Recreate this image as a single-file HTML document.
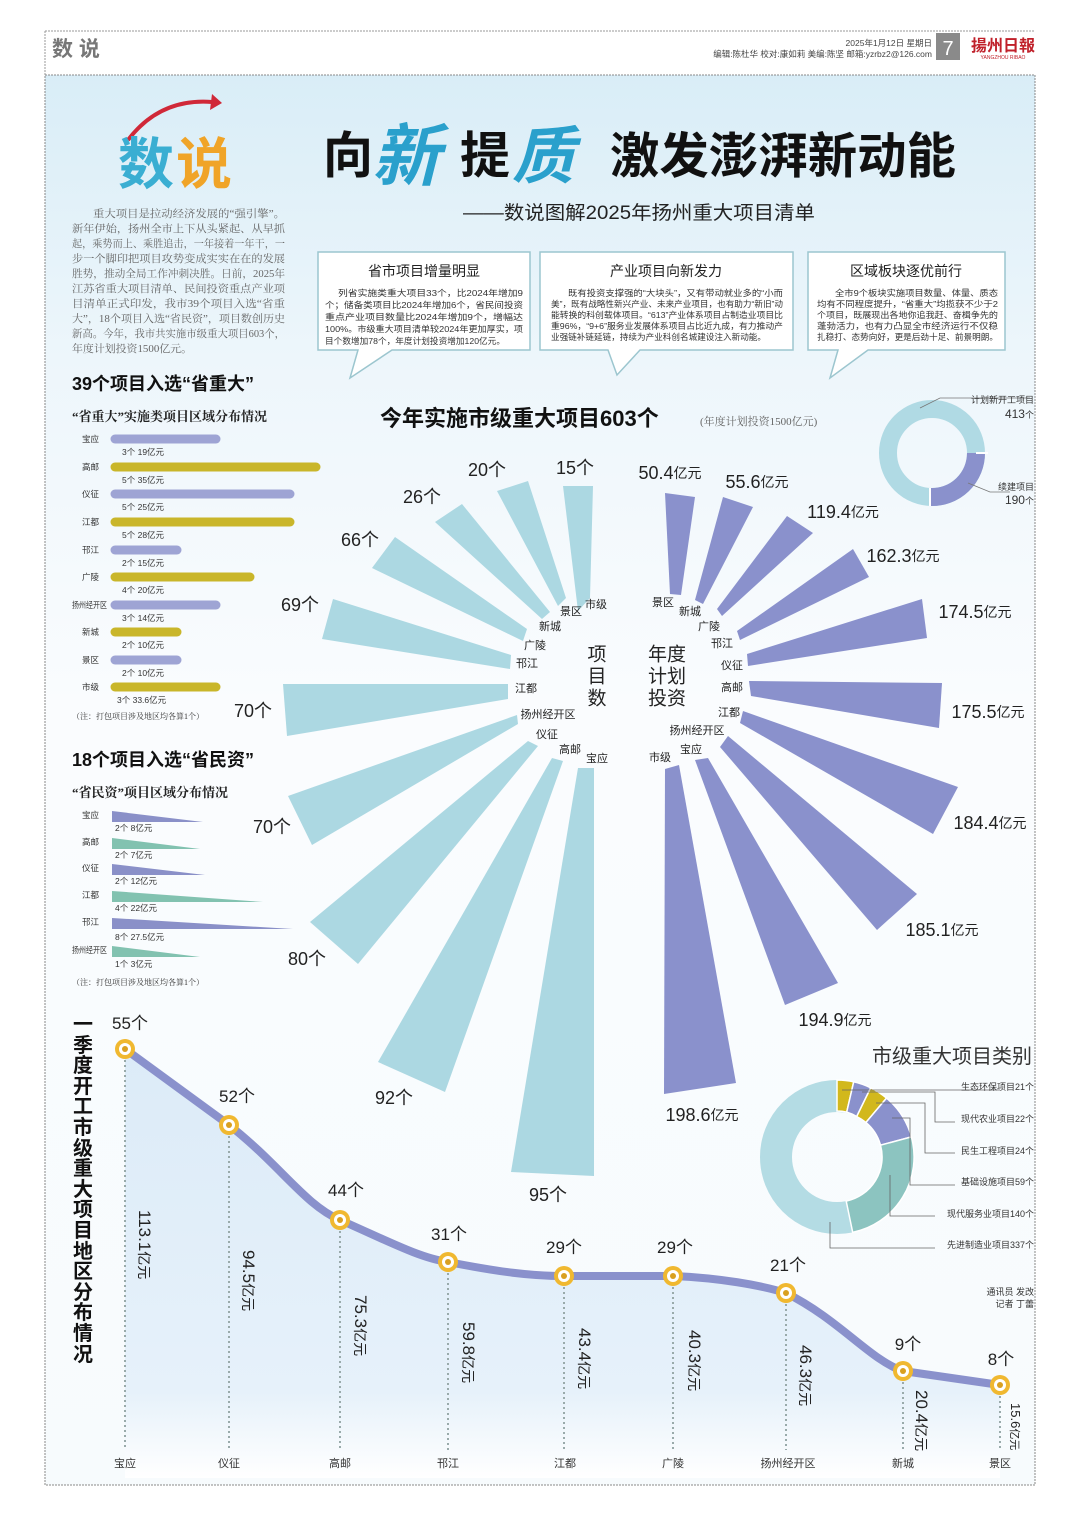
<!DOCTYPE html>
<html><head><meta charset="utf-8"><style>
html,body{margin:0;padding:0;background:#fff;}
svg{display:block;}
text{font-family:"Liberation Sans","Noto Sans CJK SC",sans-serif;}
.s{font-family:"Liberation Serif","Noto Serif CJK SC",serif;}
</style></head><body>
<svg width="1080" height="1515" viewBox="0 0 1080 1515" xmlns="http://www.w3.org/2000/svg">
<defs>
<linearGradient id="bg" x1="0" y1="0" x2="0" y2="1">
<stop offset="0" stop-color="#d9edf7"/><stop offset="0.2" stop-color="#edf6fb"/><stop offset="0.45" stop-color="#fafcfe"/><stop offset="1" stop-color="#f7fbfd"/></linearGradient>
<linearGradient id="ar" x1="0" y1="0" x2="0" y2="1">
<stop offset="0" stop-color="#dcebf8"/><stop offset="0.8" stop-color="#e6f1fa"/><stop offset="1" stop-color="#ffffff"/></linearGradient>
</defs>
<rect width="1080" height="1515" fill="#fff"/>
<line x1="45" y1="31" x2="1035" y2="31" stroke="#999" stroke-dasharray="2,1"/>
<line x1="45" y1="31" x2="45" y2="75" stroke="#999" stroke-dasharray="2,1"/>
<text x="52" y="56" font-size="21" fill="#777" font-weight="bold">数 说</text>
<text x="932" y="46" font-size="8.5" fill="#444" text-anchor="end">2025年1月12日 星期日</text>
<text x="932" y="57" font-size="8.5" fill="#444" text-anchor="end">编辑:陈杜华 校对:康如莉 美编:陈坚 邮箱:yzrbz2@126.com</text>
<rect x="936" y="33" width="24" height="27" fill="#8a8a8a"/>
<text x="948" y="55" font-size="20" fill="#fff" text-anchor="middle">7</text>
<text x="1003" y="51" font-size="16" fill="#c0202a" text-anchor="middle" font-weight="bold">揚州日報</text>
<text x="1003" y="59" font-size="5" fill="#c0202a" text-anchor="middle">YANGZHOU RIBAO</text>
<rect x="45" y="75" width="990" height="1410" fill="url(#bg)" stroke="#888" stroke-dasharray="2,1"/>
<path d="M128,140 Q160,98 212,102" fill="none" stroke="#d02838" stroke-width="4"/>
<polygon points="212,94 222,103 210,110" fill="#d02838"/>
<text x="118" y="184" font-size="56" font-weight="bold" fill="#3aaed2">数</text>
<text x="176" y="184" font-size="56" font-weight="bold" fill="#f0a428">说</text>
<text x="323" y="173" font-size="50" font-weight="bold" fill="#111">向</text>
<text x="372" y="180" font-size="68" font-weight="bold" fill="#2aa0cc" font-style="italic">新</text>
<text x="460" y="173" font-size="50" font-weight="bold" fill="#111">提</text>
<text x="512" y="178" font-size="62" font-weight="bold" fill="#2aa0cc" font-style="italic">质</text>
<text x="610" y="173" font-size="49" font-weight="bold" fill="#111" textLength="346" lengthAdjust="spacingAndGlyphs">激发澎湃新动能</text>
<text x="463" y="219" font-size="19" fill="#222" textLength="352" lengthAdjust="spacingAndGlyphs">——数说图解2025年扬州重大项目清单</text>
<g class="s" font-size="10.5" fill="#666">
<text class="s" x="93" y="217" textLength="192" lengthAdjust="spacingAndGlyphs">重大项目是拉动经济发展的“强引擎”。</text>
<text class="s" x="72" y="232" textLength="213" lengthAdjust="spacingAndGlyphs">新年伊始，扬州全市上下从头紧起、从早抓</text>
<text class="s" x="72" y="247" textLength="213" lengthAdjust="spacingAndGlyphs">起，乘势而上、乘胜追击，一年接着一年干，一</text>
<text class="s" x="72" y="262" textLength="213" lengthAdjust="spacingAndGlyphs">步一个脚印把项目攻势变成实实在在的发展</text>
<text class="s" x="72" y="277" textLength="213" lengthAdjust="spacingAndGlyphs">胜势，推动全局工作冲刺决胜。日前，2025年</text>
<text class="s" x="72" y="292" textLength="213" lengthAdjust="spacingAndGlyphs">江苏省重大项目清单、民间投资重点产业项</text>
<text class="s" x="72" y="307" textLength="213" lengthAdjust="spacingAndGlyphs">目清单正式印发，我市39个项目入选“省重</text>
<text class="s" x="72" y="322" textLength="213" lengthAdjust="spacingAndGlyphs">大”，18个项目入选“省民资”，项目数创历史</text>
<text class="s" x="72" y="337" textLength="213" lengthAdjust="spacingAndGlyphs">新高。今年，我市共实施市级重大项目603个，</text>
<text class="s" x="72" y="352" textLength="120" lengthAdjust="spacingAndGlyphs">年度计划投资1500亿元。</text>
</g>
<g fill="#fff" stroke="#9cc6cf" stroke-width="1.5">
<path d="M318,252 H530 V350 H392 L350,378 L358,350 H318 Z"/>
<path d="M540,252 H793 V350 H640 L617,375 L608,350 H540 Z"/>
<path d="M808,252 H1005 V350 H868 L830,378 L838,350 H808 Z"/>
</g>
<g font-size="14" fill="#222" text-anchor="middle">
<text x="424" y="276">省市项目增量明显</text>
<text x="666" y="276">产业项目向新发力</text>
<text x="906" y="276">区域板块逐优前行</text>
</g>
<g font-size="8.5" fill="#333">
<text x="338" y="296" textLength="185" lengthAdjust="spacingAndGlyphs">列省实施类重大项目33个，比2024年增加9</text>
<text x="325" y="308" textLength="198" lengthAdjust="spacingAndGlyphs">个；储备类项目比2024年增加6个，省民间投资</text>
<text x="325" y="320" textLength="198" lengthAdjust="spacingAndGlyphs">重点产业项目数量比2024年增加9个，增幅达</text>
<text x="325" y="332" textLength="198" lengthAdjust="spacingAndGlyphs">100%。市级重大项目清单较2024年更加厚实，项</text>
<text x="325" y="344" textLength="180" lengthAdjust="spacingAndGlyphs">目个数增加78个，年度计划投资增加120亿元。</text>
<text x="568" y="296" textLength="215" lengthAdjust="spacingAndGlyphs">既有投资支撑强的“大块头”，又有带动就业多的“小而</text>
<text x="551" y="307" textLength="232" lengthAdjust="spacingAndGlyphs">美”，既有战略性新兴产业、未来产业项目，也有助力“新旧”动</text>
<text x="551" y="318" textLength="232" lengthAdjust="spacingAndGlyphs">能转换的科创载体项目。“613”产业体系项目占制造业项目比</text>
<text x="551" y="329" textLength="232" lengthAdjust="spacingAndGlyphs">重96%，“9+6”服务业发展体系项目占比近九成，有力推动产</text>
<text x="551" y="340" textLength="215" lengthAdjust="spacingAndGlyphs">业强链补链延链，持续为产业科创名城建设注入新动能。</text>
<text x="835" y="296" textLength="163" lengthAdjust="spacingAndGlyphs">全市9个板块实施项目数量、体量、质态</text>
<text x="817" y="307" textLength="181" lengthAdjust="spacingAndGlyphs">均有不同程度提升，“省重大”均揽获不少于2</text>
<text x="817" y="318" textLength="181" lengthAdjust="spacingAndGlyphs">个项目，既展现出各地你追我赶、奋楫争先的</text>
<text x="817" y="329" textLength="181" lengthAdjust="spacingAndGlyphs">蓬勃活力，也有力凸显全市经济运行不仅稳</text>
<text x="817" y="340" textLength="181" lengthAdjust="spacingAndGlyphs">扎稳打、态势向好，更是后劲十足、前景明朗。</text>
</g>
<text x="72" y="390" font-size="18" font-weight="bold" fill="#111">39个项目入选“省重大”</text>
<text class="s" x="72" y="421" font-size="13" font-weight="bold" fill="#222">“省重大”实施类项目区域分布情况</text>
<g stroke-width="9" stroke-linecap="round">
<line x1="115" y1="439" x2="216" y2="439" stroke="#9ea4d4"/>
<line x1="115" y1="467" x2="316" y2="467" stroke="#c9b62a"/>
<line x1="115" y1="494" x2="290" y2="494" stroke="#9ea4d4"/>
<line x1="115" y1="522" x2="290" y2="522" stroke="#c9b62a"/>
<line x1="115" y1="550" x2="177" y2="550" stroke="#9ea4d4"/>
<line x1="115" y1="577" x2="250" y2="577" stroke="#c9b62a"/>
<line x1="115" y1="605" x2="216" y2="605" stroke="#9ea4d4"/>
<line x1="115" y1="632" x2="177" y2="632" stroke="#c9b62a"/>
<line x1="115" y1="660" x2="177" y2="660" stroke="#9ea4d4"/>
<line x1="115" y1="687" x2="216" y2="687" stroke="#c9b62a"/>
</g>
<g font-size="8.5" fill="#333">
<text x="82" y="442">宝应</text><text x="82" y="470">高邮</text><text x="82" y="497">仪征</text><text x="82" y="525">江都</text><text x="82" y="553">邗江</text><text x="82" y="580">广陵</text><text x="72" y="608" textLength="35" lengthAdjust="spacingAndGlyphs">扬州经开区</text><text x="82" y="635">新城</text><text x="82" y="663">景区</text><text x="82" y="690">市级</text>
<text x="122" y="455">3个 19亿元</text><text x="122" y="483">5个 35亿元</text><text x="122" y="510">5个 25亿元</text><text x="122" y="538">5个 28亿元</text><text x="122" y="566">2个 15亿元</text><text x="122" y="593">4个 20亿元</text><text x="122" y="621">3个 14亿元</text><text x="122" y="648">2个 10亿元</text><text x="122" y="676">2个 10亿元</text><text x="117" y="703">3个 33.6亿元</text>
<text class="s" x="72" y="719" font-size="8">（注：打包项目涉及地区均各算1个）</text>
</g>
<text x="72" y="766" font-size="18" font-weight="bold" fill="#111">18个项目入选“省民资”</text>
<text class="s" x="72" y="797" font-size="13" font-weight="bold" fill="#222">“省民资”项目区域分布情况</text>
<g>
<polygon points="112,811 112,822 203,822" fill="#8a90c8"/>
<polygon points="112,838 112,849 200,849" fill="#82c2b0"/>
<polygon points="112,864 112,875 205,875" fill="#8a90c8"/>
<polygon points="112,891 112,902 263,902" fill="#82c2b0"/>
<polygon points="112,918 112,929 293,929" fill="#8a90c8"/>
<polygon points="112,946 112,957 200,957" fill="#82c2b0"/>
</g>
<g font-size="8.5" fill="#333">
<text x="82" y="818">宝应</text><text x="82" y="845">高邮</text><text x="82" y="871">仪征</text><text x="82" y="898">江都</text><text x="82" y="925">邗江</text><text x="72" y="953" textLength="35" lengthAdjust="spacingAndGlyphs">扬州经开区</text>
<text x="115" y="831">2个 8亿元</text><text x="115" y="858">2个 7亿元</text><text x="115" y="884">2个 12亿元</text><text x="115" y="911">4个 22亿元</text><text x="115" y="940">8个 27.5亿元</text><text x="115" y="967">1个 3亿元</text>
<text class="s" x="72" y="985" font-size="8">（注：打包项目涉及地区均各算1个）</text>
</g>
<text x="380" y="426" font-size="22" font-weight="bold" fill="#111">今年实施市级重大项目603个</text>
<text class="s" x="700" y="425" font-size="11" fill="#666">(年度计划投资1500亿元)</text>
<g fill="#acd8e2">
<polygon points="563,486 593,486 590,598 578,611"/>
<polygon points="497,491 528,481 566,598 558,606"/>
<polygon points="435,522 462,504 550,612 542,619"/>
<polygon points="372,568 395,537 527,629 523,641"/>
<polygon points="322,639 333,599 511,655 510,669"/>
<polygon points="283,684 287,736 508,699 508,684"/>
<polygon points="288,796 312,845 518,724 517,715"/>
<polygon points="310,922 358,964 538,746 528,741"/>
<polygon points="378,1062 445,1092 563,761 552,758"/>
<polygon points="511,1172 594,1176 594,768 578,768"/>
</g>
<g fill="#8a91cc">
<polygon points="665,493 695,497 681,595 670,594"/>
<polygon points="723,497 753,507 703,604 695,600"/>
<polygon points="787,516 813,533 722,616 717,609"/>
<polygon points="853,549 869,577 740,640 737,631"/>
<polygon points="922,599 927,638 748,666 747,654"/>
<polygon points="942,683 939,728 751,696 749,681"/>
<polygon points="958,787 933,834 740,723 743,711"/>
<polygon points="917,894 877,930 720,747 728,736"/>
<polygon points="838,983 785,1005 695,760 708,758"/>
<polygon points="736,1083 664,1094 665,769 679,765"/>
</g>
<g font-size="11" fill="#222" text-anchor="middle" dominant-baseline="central">
<text x="596" y="605">市级</text><text x="571" y="612">景区</text><text x="550" y="627">新城</text><text x="535" y="646">广陵</text><text x="527" y="664">邗江</text><text x="526" y="689">江都</text><text x="548" y="715">扬州经开区</text><text x="547" y="735">仪征</text><text x="570" y="750">高邮</text><text x="597" y="759">宝应</text>
<text x="663" y="603">景区</text><text x="690" y="612">新城</text><text x="709" y="627">广陵</text><text x="722" y="644">邗江</text><text x="732" y="666">仪征</text><text x="732" y="688">高邮</text><text x="729" y="713">江都</text><text x="697" y="731">扬州经开区</text><text x="691" y="750">宝应</text><text x="660" y="758">市级</text>
</g>
<g font-size="19" fill="#222" text-anchor="middle" dominant-baseline="central">
<text x="597" y="655">项</text><text x="597" y="677">目</text><text x="597" y="699">数</text>
<text x="667" y="655">年度</text><text x="667" y="677">计划</text><text x="667" y="699">投资</text>
</g>
<g font-size="18" fill="#222" text-anchor="middle" dominant-baseline="central">
<text x="575" y="468">15个</text><text x="487" y="470">20个</text><text x="422" y="497">26个</text><text x="360" y="540">66个</text><text x="300" y="605">69个</text><text x="253" y="711">70个</text><text x="272" y="827">70个</text><text x="307" y="959">80个</text><text x="394" y="1098">92个</text><text x="548" y="1195">95个</text>
<text x="670" y="473">50.4<tspan font-size="14">亿元</tspan></text>
<text x="757" y="482">55.6<tspan font-size="14">亿元</tspan></text>
<text x="843" y="512">119.4<tspan font-size="14">亿元</tspan></text>
<text x="903" y="556">162.3<tspan font-size="14">亿元</tspan></text>
<text x="975" y="612">174.5<tspan font-size="14">亿元</tspan></text>
<text x="988" y="712">175.5<tspan font-size="14">亿元</tspan></text>
<text x="990" y="823">184.4<tspan font-size="14">亿元</tspan></text>
<text x="942" y="930">185.1<tspan font-size="14">亿元</tspan></text>
<text x="835" y="1020">194.9<tspan font-size="14">亿元</tspan></text>
<text x="702" y="1115">198.6<tspan font-size="14">亿元</tspan></text>
</g>
<circle cx="932" cy="453" r="44" fill="none" stroke="#b0dae4" stroke-width="18"/>
<path d="M976,453 A44,44 0 0 1 930,497" fill="none" stroke="#8a91cc" stroke-width="18"/>
<line x1="976" y1="453" x2="988" y2="453" stroke="#fff" stroke-width="2"/>
<line x1="930" y1="488" x2="930" y2="506" stroke="#fff" stroke-width="2"/>
<polyline points="920,408 940,398 1030,398" fill="none" stroke="#777" stroke-width="0.8"/>
<polyline points="968,483 990,492 1010,492" fill="none" stroke="#777" stroke-width="0.8"/>
<g font-size="9" fill="#333" text-anchor="end">
<text x="1034" y="403">计划新开工项目</text>
<text x="1034" y="418" font-size="12">413<tspan font-size="9">个</tspan></text>
<text x="1034" y="490">续建项目</text>
<text x="1034" y="504" font-size="12">190<tspan font-size="9">个</tspan></text>
</g>
<text x="1032" y="1063" font-size="20" fill="#333" text-anchor="end">市级重大项目类别</text>
<circle cx="837" cy="1157" r="61" fill="none" stroke="#b4dce4" stroke-width="32"/>
<g stroke="#fff" stroke-width="1.5">
<path d="M837,1080 A77,77 0 0 1 853.7,1081.8 L846.7,1112.1 A45,45 0 0 0 837,1111 Z" fill="#d2b81c"/>
<path d="M853.7,1081.8 A77,77 0 0 1 870.7,1087.8 L856.7,1116.5 A45,45 0 0 0 846.7,1112.1 Z" fill="#8a91cc"/>
<path d="M870.7,1087.8 A77,77 0 0 1 886.5,1098.1 L865.9,1122.5 A45,45 0 0 0 856.7,1116.5 Z" fill="#d2b81c"/>
<path d="M886.5,1098.1 A77,77 0 0 1 911.4,1136.9 L880.5,1145.2 A45,45 0 0 0 865.9,1122.5 Z" fill="#8a91cc"/>
<path d="M911.4,1136.9 A77,77 0 0 1 852.7,1232.4 L846.2,1201.1 A45,45 0 0 0 880.5,1145.2 Z" fill="#8cc4c0"/>
</g>
<g fill="none" stroke="#666" stroke-width="0.8">
<polyline points="842,1090 1000,1090"/>
<polyline points="862,1092 935,1092 935,1122 955,1122"/>
<polyline points="876,1103 925,1103 925,1153 955,1153"/>
<polyline points="892,1118 910,1118 910,1185 955,1185"/>
<polyline points="890,1175 890,1216 935,1216"/>
<polyline points="830,1222 830,1248 935,1248"/>
</g>
<g font-size="9" fill="#333" text-anchor="end">
<text x="1034" y="1090">生态环保项目21个</text>
<text x="1034" y="1122">现代农业项目22个</text>
<text x="1034" y="1154">民生工程项目24个</text>
<text x="1034" y="1185">基础设施项目59个</text>
<text x="1034" y="1217">现代服务业项目140个</text>
<text x="1034" y="1248">先进制造业项目337个</text>
<text x="1034" y="1295">通讯员 发改</text>
<text x="1034" y="1307">记者 丁蕾</text>
</g>
<path d="M125,1049 L229,1125 C280,1165 305,1205 340,1220 C390,1242 420,1258 448,1262 C500,1272 530,1276 564,1276 L673,1276 C720,1278 760,1285 786,1293 C840,1320 870,1360 903,1371 L1000,1385 L1000,1478 L125,1478 Z" fill="url(#ar)"/>
<g stroke="#9aa" stroke-width="2" stroke-dasharray="2,3">
<line x1="125" y1="1060" x2="125" y2="1450"/><line x1="229" y1="1136" x2="229" y2="1450"/><line x1="340" y1="1231" x2="340" y2="1450"/><line x1="448" y1="1273" x2="448" y2="1450"/><line x1="564" y1="1287" x2="564" y2="1450"/><line x1="673" y1="1287" x2="673" y2="1450"/><line x1="786" y1="1304" x2="786" y2="1450"/><line x1="903" y1="1382" x2="903" y2="1450"/><line x1="1000" y1="1396" x2="1000" y2="1450"/>
</g>
<path d="M125,1049 L229,1125 C280,1165 305,1205 340,1220 C390,1242 420,1258 448,1262 C500,1272 530,1276 564,1276 L673,1276 C720,1278 760,1285 786,1293 C840,1320 870,1360 903,1371 L1000,1385" fill="none" stroke="#8a91cc" stroke-width="8" stroke-linejoin="round"/>
<g>
<g transform="translate(125,1049)"><circle r="10" fill="#f0b830"/><circle r="6" fill="#fff"/><circle r="3" fill="#d9a020"/></g>
<g transform="translate(229,1125)"><circle r="10" fill="#f0b830"/><circle r="6" fill="#fff"/><circle r="3" fill="#d9a020"/></g>
<g transform="translate(340,1220)"><circle r="10" fill="#f0b830"/><circle r="6" fill="#fff"/><circle r="3" fill="#d9a020"/></g>
<g transform="translate(448,1262)"><circle r="10" fill="#f0b830"/><circle r="6" fill="#fff"/><circle r="3" fill="#d9a020"/></g>
<g transform="translate(564,1276)"><circle r="10" fill="#f0b830"/><circle r="6" fill="#fff"/><circle r="3" fill="#d9a020"/></g>
<g transform="translate(673,1276)"><circle r="10" fill="#f0b830"/><circle r="6" fill="#fff"/><circle r="3" fill="#d9a020"/></g>
<g transform="translate(786,1293)"><circle r="10" fill="#f0b830"/><circle r="6" fill="#fff"/><circle r="3" fill="#d9a020"/></g>
<g transform="translate(903,1371)"><circle r="10" fill="#f0b830"/><circle r="6" fill="#fff"/><circle r="3" fill="#d9a020"/></g>
<g transform="translate(1000,1385)"><circle r="10" fill="#f0b830"/><circle r="6" fill="#fff"/><circle r="3" fill="#d9a020"/></g>
</g>
<g font-size="17" fill="#222" text-anchor="middle">
<text x="130" y="1029">55个</text><text x="237" y="1102">52个</text><text x="346" y="1196">44个</text><text x="449" y="1240">31个</text><text x="564" y="1253">29个</text><text x="675" y="1253">29个</text><text x="788" y="1271">21个</text><text x="908" y="1350">9个</text><text x="1001" y="1365">8个</text>
</g>
<g font-size="17" fill="#222">
<text transform="translate(139,1210) rotate(90)">113.1<tspan font-size="14">亿元</tspan></text>
<text transform="translate(243,1250) rotate(90)">94.5<tspan font-size="14">亿元</tspan></text>
<text transform="translate(355,1295) rotate(90)">75.3<tspan font-size="14">亿元</tspan></text>
<text transform="translate(463,1322) rotate(90)">59.8<tspan font-size="14">亿元</tspan></text>
<text transform="translate(579,1328) rotate(90)">43.4<tspan font-size="14">亿元</tspan></text>
<text transform="translate(689,1330) rotate(90)">40.3<tspan font-size="14">亿元</tspan></text>
<text transform="translate(800,1345) rotate(90)">46.3<tspan font-size="14">亿元</tspan></text>
<text transform="translate(916,1390) rotate(90)">20.4<tspan font-size="14">亿元</tspan></text>
<text transform="translate(1011,1403) rotate(90)" font-size="13">15.6<tspan font-size="11">亿元</tspan></text>
</g>
<g font-size="11" fill="#333" text-anchor="middle">
<text x="125" y="1467">宝应</text><text x="229" y="1467">仪征</text><text x="340" y="1467">高邮</text><text x="448" y="1467">邗江</text><text x="565" y="1467">江都</text><text x="673" y="1467">广陵</text><text x="788" y="1467">扬州经开区</text><text x="903" y="1467">新城</text><text x="1000" y="1467">景区</text>
</g>
<g font-size="20" font-weight="bold" fill="#111" text-anchor="middle">
<text x="83" y="1031">一</text><text x="83" y="1052">季</text><text x="83" y="1072">度</text><text x="83" y="1093">开</text><text x="83" y="1113">工</text><text x="83" y="1134">市</text><text x="83" y="1155">级</text><text x="83" y="1175">重</text><text x="83" y="1196">大</text><text x="83" y="1216">项</text><text x="83" y="1237">目</text><text x="83" y="1258">地</text><text x="83" y="1278">区</text><text x="83" y="1299">分</text><text x="83" y="1319">布</text><text x="83" y="1340">情</text><text x="83" y="1361">况</text>
</g>
</svg>
</body></html>
